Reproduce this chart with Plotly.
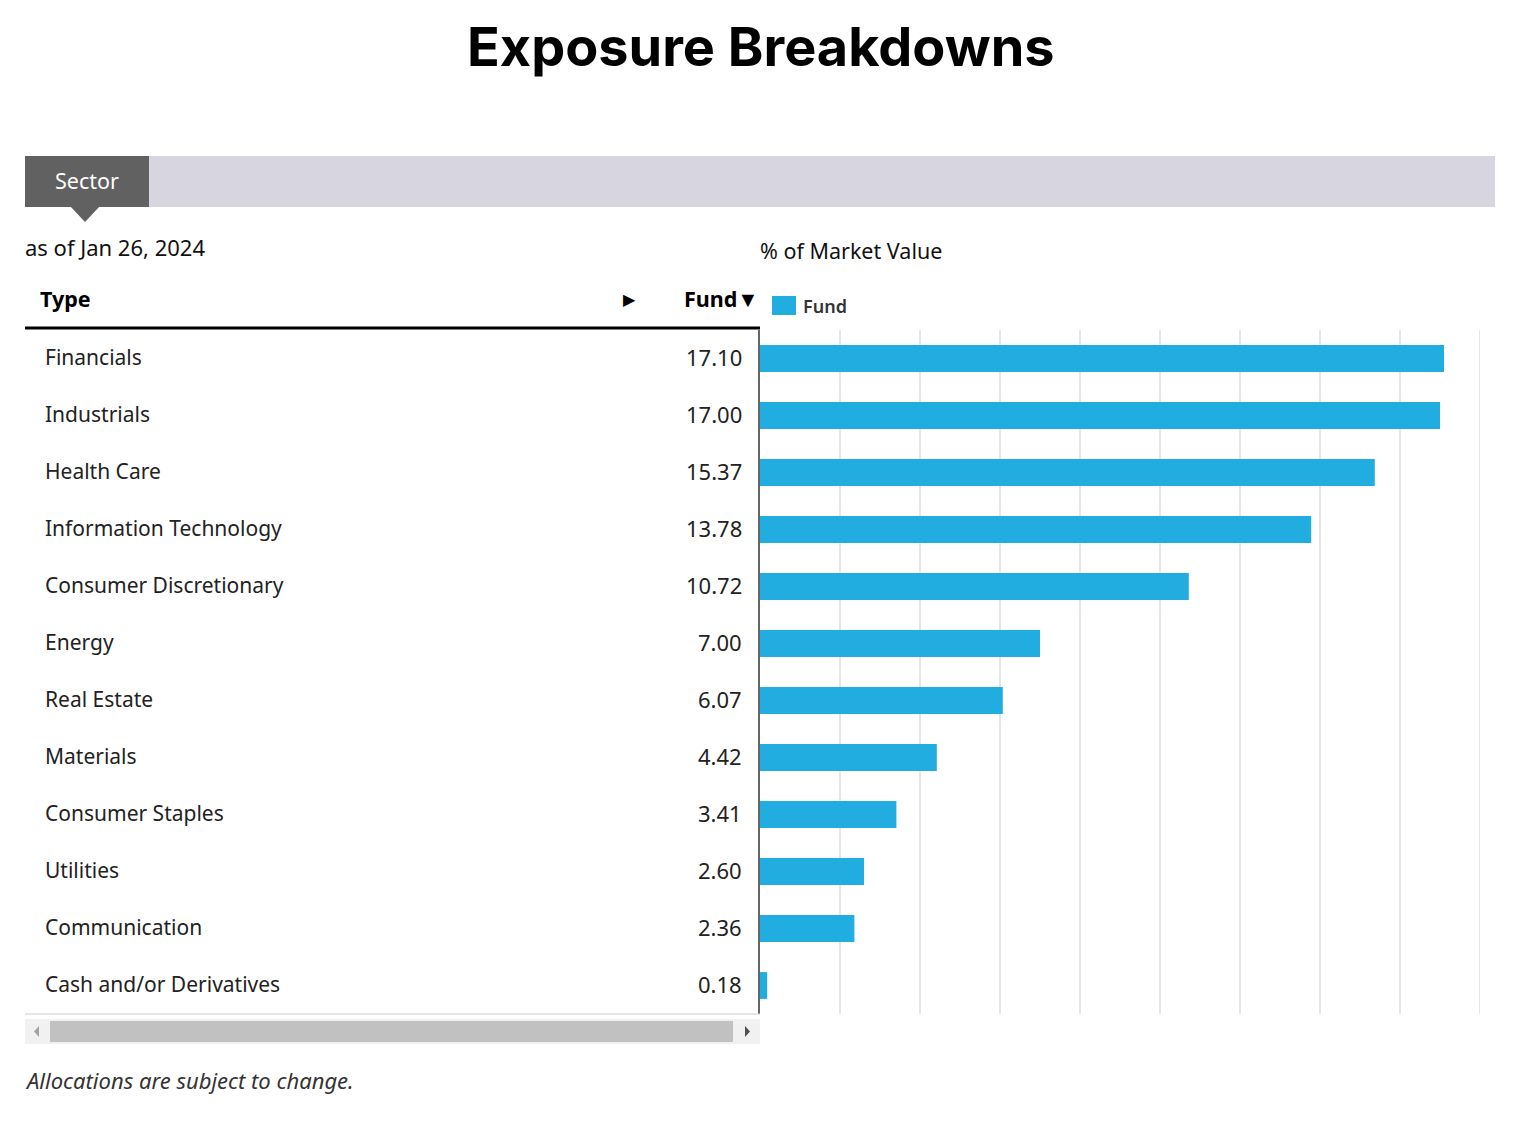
import plotly.graph_objects as go

sectors = ["Financials", "Industrials", "Health Care", "Information Technology",
           "Consumer Discretionary", "Energy", "Real Estate", "Materials",
           "Consumer Staples", "Utilities", "Communication", "Cash and/or Derivatives"]
weights = [17.10, 17.00, 15.37, 13.78, 10.72, 7.00, 6.07, 4.42, 3.41, 2.60, 2.36, 0.18]
value_labels = ["17.10", "17.00", "15.37", "13.78", "10.72", "7.00", "6.07", "4.42",
                "3.41", "2.60", "2.36", "0.18"]

OFF = 8  # default body margin of the html page
W, H = 1518 - 2 * OFF, 1140 - 2 * OFF


def px(x):
    return (x - OFF) / W


def py(y):
    return 1 - (y - OFF) / H


BLUE = "#22ade1"
FONT = "Noto Sans"

fig = go.Figure()
fig.add_trace(go.Bar(x=weights, y=sectors, orientation="h", marker_color=BLUE,
                     marker_line_width=0, name="Fund", showlegend=False,
                     hoverinfo="x+y"))

shapes = []
annotations = []

# title
annotations.append(dict(x=px(761), y=py(47), xref="paper", yref="paper",
                        text="<b>Exposure Breakdowns</b>", showarrow=False,
                        font=dict(family="Inter", size=54, color="#000000", weight=900),
                        xanchor="center", yanchor="middle"))

# tab bar
shapes.append(dict(type="rect", xref="paper", yref="paper", x0=px(25), x1=px(1495),
                   y0=py(207), y1=py(156), fillcolor="#d7d6e0", line_width=0, layer="below"))
shapes.append(dict(type="rect", xref="paper", yref="paper", x0=px(25), x1=px(149),
                   y0=py(207), y1=py(156), fillcolor="#616161", line_width=0, layer="below"))
shapes.append(dict(type="path", xref="paper", yref="paper",
                   path=f"M {px(70)} {py(206)} L {px(100)} {py(206)} L {px(85)} {py(222)} Z",
                   fillcolor="#616161", line_width=0, layer="below"))
annotations.append(dict(x=px(87), y=py(180), xref="paper", yref="paper", text="Sector",
                        showarrow=False, font=dict(family=FONT, size=21.5, color="#ffffff"),
                        xanchor="center", yanchor="middle"))

annotations.append(dict(x=px(23), y=py(247), xref="paper", yref="paper",
                        text="as of Jan 26, 2024", showarrow=False,
                        font=dict(family=FONT, size=22, color="#111111"),
                        xanchor="left", yanchor="middle"))
annotations.append(dict(x=px(758), y=py(251), xref="paper", yref="paper",
                        text="% of Market Value", showarrow=False,
                        font=dict(family=FONT, size=21.5, color="#111111"),
                        xanchor="left", yanchor="middle"))

# table header
annotations.append(dict(x=px(38), y=py(298), xref="paper", yref="paper", text="<b>Type</b>",
                        showarrow=False, font=dict(family=FONT, size=21.5, color="#000000"),
                        xanchor="left", yanchor="middle"))
annotations.append(dict(x=px(629), y=py(299), xref="paper", yref="paper", text="▶",
                        showarrow=False, font=dict(family="DejaVu Sans", size=16, color="#000000"),
                        xanchor="center", yanchor="middle"))
annotations.append(dict(x=px(761), y=py(298), xref="paper", yref="paper", text="<b>Fund▼</b>",
                        showarrow=False, font=dict(family=FONT, size=21.5, color="#000000"),
                        xanchor="right", yanchor="middle"))
shapes.append(dict(type="line", xref="paper", yref="paper", x0=px(25), x1=px(760),
                   y0=py(328), y1=py(328), line=dict(color="#000000", width=3)))
shapes.append(dict(type="line", xref="paper", yref="paper", x0=px(25), x1=px(760),
                   y0=py(1014), y1=py(1014), line=dict(color="#cccccc", width=1)))
# grid line at the right end of the axis
shapes.append(dict(type="line", xref="x", yref="paper", x0=18, x1=18,
                   y0=py(1014), y1=py(330), line=dict(color="#e6e6e6", width=2), layer="below"))

# legend
shapes.append(dict(type="rect", xref="paper", yref="paper", x0=px(772), x1=px(796),
                   y0=py(315), y1=py(296), fillcolor=BLUE, line_width=0))
annotations.append(dict(x=px(801), y=py(306), xref="paper", yref="paper", text="Fund",
                        showarrow=False, font=dict(family=FONT, size=18, color="#333333", weight=600),
                        xanchor="left", yanchor="middle"))

# table rows
for s, v in zip(sectors, value_labels):
    annotations.append(dict(x=px(43), y=s, xref="paper", yref="y", text=s, showarrow=False,
                            font=dict(family=FONT, size=21, color="#222222"),
                            xanchor="left", yanchor="middle", yshift=2))
    annotations.append(dict(x=px(744), y=s, xref="paper", yref="y", text=v, showarrow=False,
                            font=dict(family=FONT, size=22, color="#222222"),
                            xanchor="right", yanchor="middle", yshift=2))

# scrollbar
shapes.append(dict(type="rect", xref="paper", yref="paper", x0=px(25), x1=px(760),
                   y0=py(1044), y1=py(1019), fillcolor="#f1f1f1", line_width=0))
shapes.append(dict(type="rect", xref="paper", yref="paper", x0=px(50), x1=px(733),
                   y0=py(1042), y1=py(1021), fillcolor="#c1c1c1", line_width=0))
shapes.append(dict(type="path", xref="paper", yref="paper",
                   path=f"M {px(39)} {py(1026)} L {px(39)} {py(1037)} L {px(34)} {py(1031.5)} Z",
                   fillcolor="#a3a3a3", line_width=0))
shapes.append(dict(type="path", xref="paper", yref="paper",
                   path=f"M {px(745)} {py(1026)} L {px(745)} {py(1037)} L {px(750)} {py(1031.5)} Z",
                   fillcolor="#505050", line_width=0))

annotations.append(dict(x=px(23), y=py(1080), xref="paper", yref="paper",
                        text="<i>Allocations are subject to change.</i>", showarrow=False,
                        font=dict(family=FONT, size=22, color="#333333"),
                        xanchor="left", yanchor="middle"))

fig.update_layout(
    width=W, height=H, autosize=False,
    margin=dict(l=0, r=0, t=0, b=0),
    paper_bgcolor="#ffffff", plot_bgcolor="#ffffff",
    bargap=0.53,
    showlegend=False,
    shapes=shapes, annotations=annotations,
    xaxis=dict(domain=[px(760), px(1480)], range=[0, 18], dtick=2, tick0=0,
               showgrid=True, gridcolor="#e6e6e6", gridwidth=2, zeroline=False,
               showticklabels=False, ticks="", fixedrange=True),
    yaxis=dict(domain=[py(1014), py(330)], categoryorder="array", categoryarray=sectors,
               autorange="reversed", showticklabels=False, ticks="", showgrid=False,
               showline=True, linecolor="#666666", linewidth=2, zeroline=False,
               fixedrange=True),
    font=dict(family=FONT),
)

fig.write_html("out.html", config={"displayModeBar": False})
